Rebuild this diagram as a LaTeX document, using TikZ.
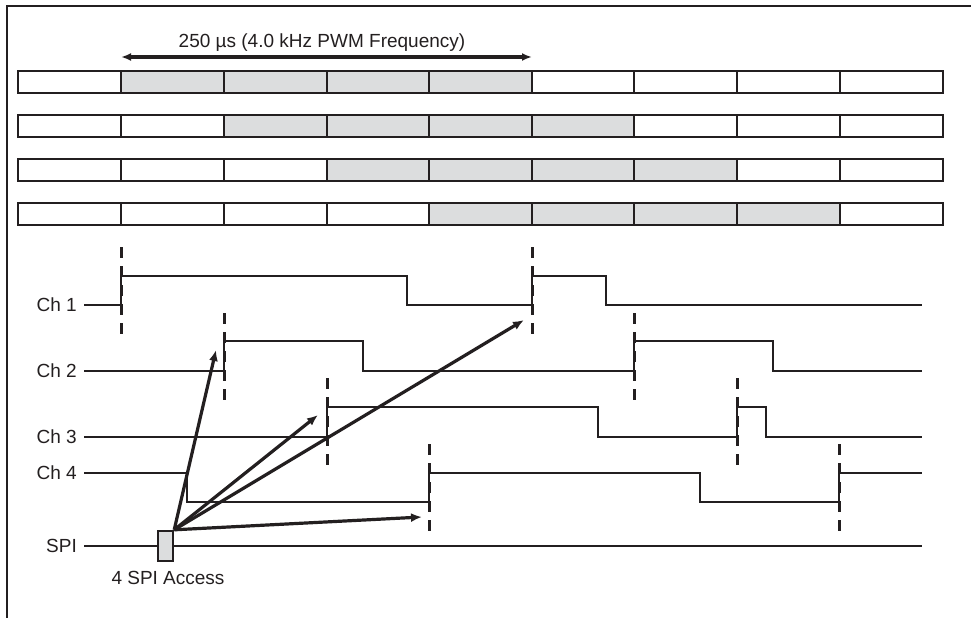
\documentclass[tikz,border=0pt]{standalone}
\usepackage{fontspec}
\setmainfont{Liberation Sans}
\usetikzlibrary{arrows.meta}
\definecolor{ink}{HTML}{231F20}
\definecolor{cellgray}{HTML}{DCDDDE}
\tikzset{
	lbl/.style={font=\fontsize{19}{22}\selectfont, text=ink, inner sep=0pt},
	bar/.style={line width=2.8pt, ink},
	sig/.style={line width=2.6pt, ink},
	sync/.style={line width=3pt, ink, dash pattern=on 11pt off 8pt},
	hit/.style={line width=3.2pt, ink, -{Latex[length=11pt,width=9pt]}},
}
\begin{document}
\begin{tikzpicture}[x=1pt,y=-1pt]
				\useasboundingbox (0,0) rectangle (971,618);
				\draw[line width=1.8pt,ink] (971,6) -- (7,6) -- (7,618);
				% period of the PWM
				\node[lbl,anchor=base] (period) at (322,48) {250 µs (4.0 kHz PWM Frequency)};
				\coordinate (pa) at (121,57);
				\coordinate (pb) at (532,57);
				\draw[line width=3.2pt,ink,{Latex[length=10pt,width=8pt]}-{Latex[length=10pt,width=8pt]}] (pa) -- (pb);
				% the four slot rows
				\foreach \top/\a/\b in {71/121/532, 115/224/634, 159/327/737, 203/429/840} {
					\fill[cellgray] (\a,\top) rectangle (\b,\top+22);
					\draw[bar] (18,\top) rectangle (943,\top+22);
					\foreach \x in {121,224,327,429,532,634,737,840}
						\draw[bar] (\x,\top) -- (\x,\top+22);
				}
				% channels
				\node[lbl,anchor=east,inner xsep=7pt] (ch1) at (84,305) {Ch 1};
				\node[lbl,anchor=east,inner xsep=7pt] (ch2) at (84,371) {Ch 2};
				\node[lbl,anchor=east,inner xsep=7pt] (ch3) at (84,437) {Ch 3};
				\node[lbl,anchor=east,inner xsep=7pt] (ch4) at (84,473) {Ch 4};
				\node[lbl,anchor=east,inner xsep=7pt] (spilbl) at (84,546) {SPI};
				\draw[sig] (ch1.east) -| (121,276) -| (407,305) -| (532,276) -| (606,305) -- (922,305);
				\draw[sig] (ch2.east) -| (224,341) -| (363,371) -| (634,341) -| (773,371) -- (922,371);
				\draw[sig] (ch3.east) -| (327,407) -| (598,437) -| (737,407) -| (766,437) -- (922,437);
				\draw[sig] (ch4.east) -| (187,502) -| (429,473) -| (700,502) -| (839,473) -- (922,473);
				\draw[sig] (spilbl.east) -- (922,546);
				% update instants
				\draw[sync] (121,247) -- (121,334) (532,247) -- (532,334);
				\draw[sync] (224,313) -- (224,400) (634,313) -- (634,400);
				\draw[sync] (327,378) -- (327,466) (737,378) -- (737,466);
				\draw[sync] (429,444) -- (429,532) (839,444) -- (839,532);
				% spi access
				\node[draw=ink,line width=2.4pt,fill=cellgray,minimum width=15pt,minimum height=30pt,inner sep=0pt] (spi) at (165.5,546) {};
				\node[lbl] (access) at (168,578) {4 SPI Access};
				\coordinate (t1) at (524,320);
				\coordinate (t2) at (216,350);
				\coordinate (t3) at (318,415);
				\coordinate (t4) at (422,517);
				\draw[hit] (spi.north east) -- (t2);
				\draw[hit] (spi.north east) -- (t3);
				\draw[hit] (spi.north east) -- (t1);
				\draw[hit] (spi.north east) -- (t4);
\end{tikzpicture}
\end{document}
